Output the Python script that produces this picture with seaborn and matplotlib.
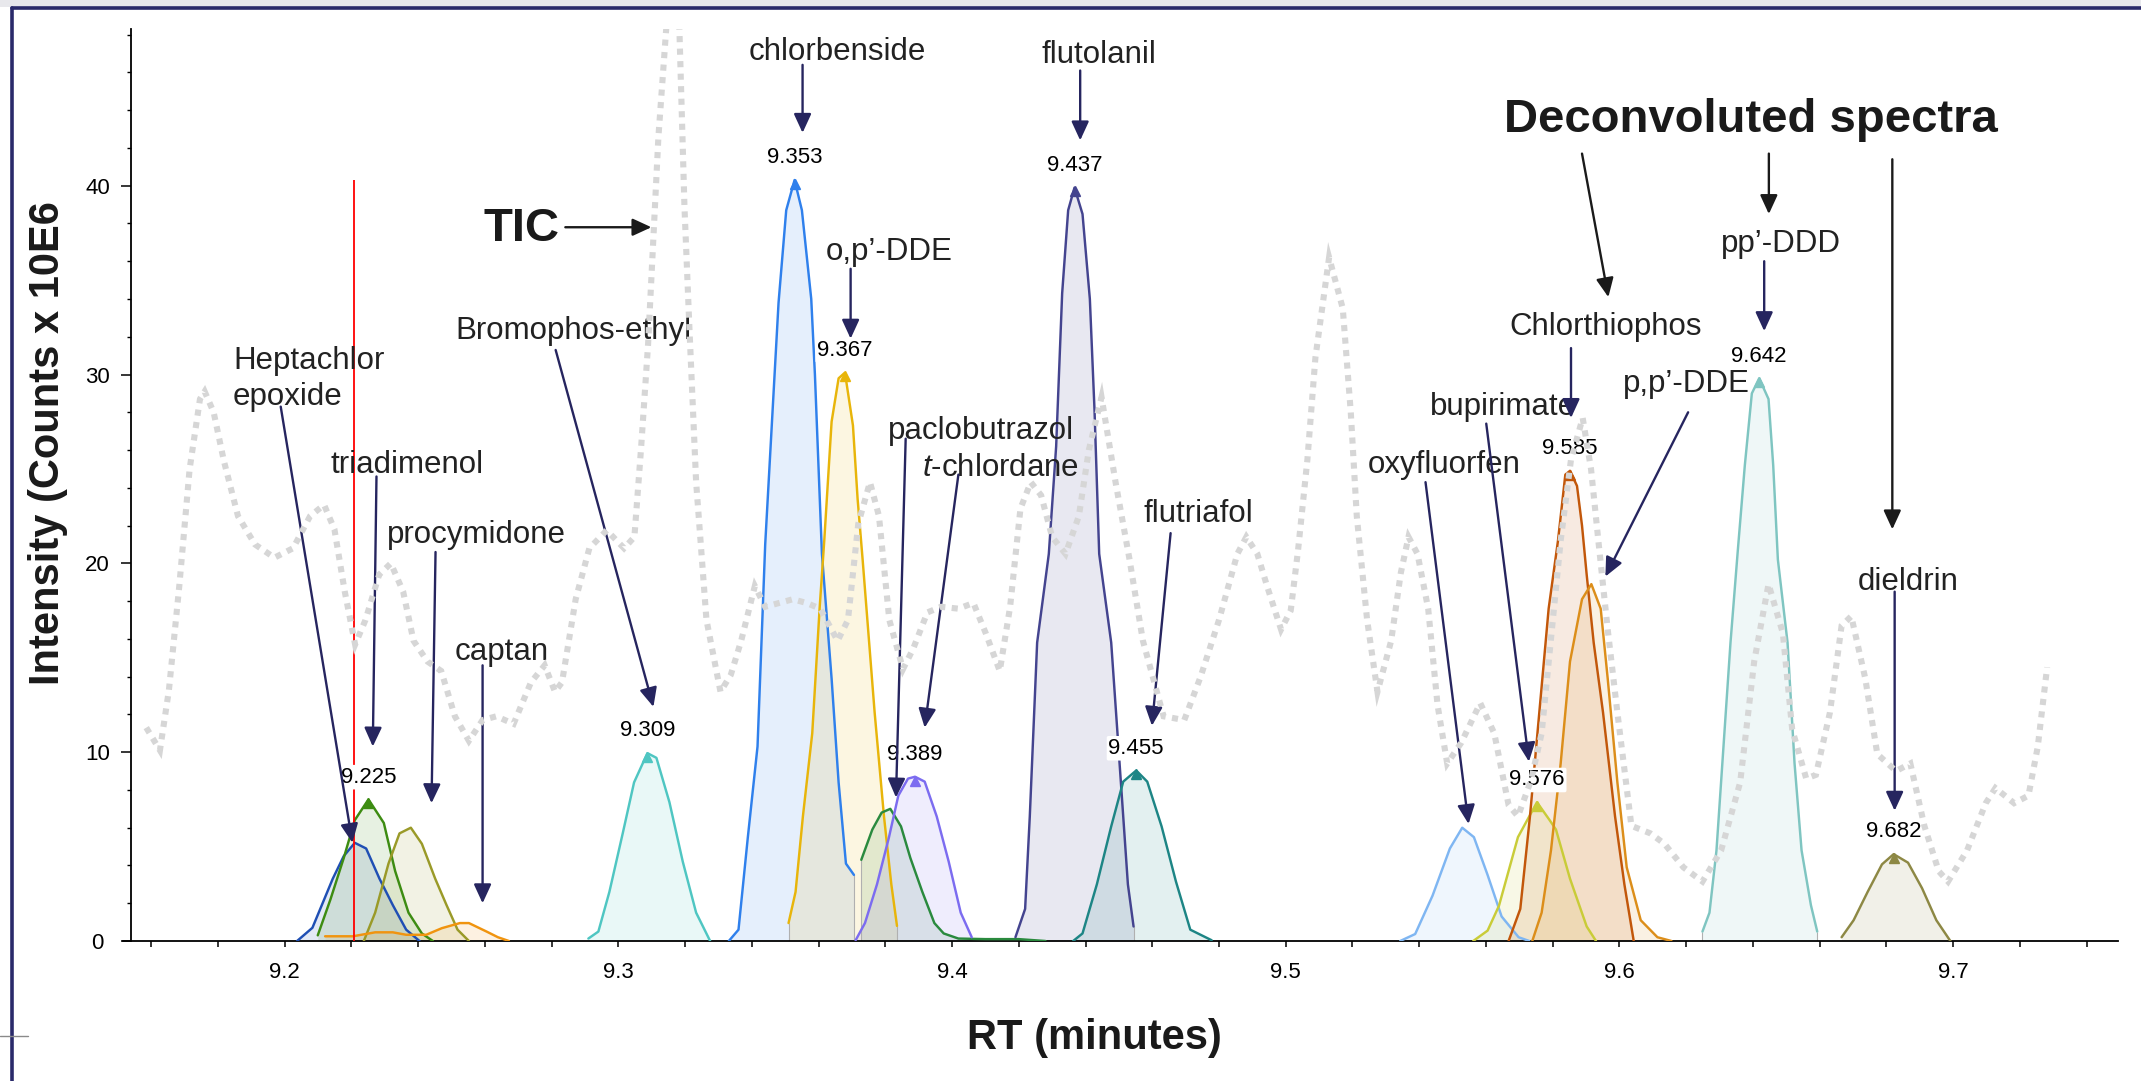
import numpy as np
import matplotlib
matplotlib.use("Agg")
import matplotlib.pyplot as plt
from matplotlib.lines import Line2D
from matplotlib.patches import Rectangle
from matplotlib.ticker import MultipleLocator
import seaborn as sns

sns.set_theme(style="white")
plt.rcParams['font.family'] = ['Liberation Sans', 'DejaVu Sans']
plt.rcParams['mathtext.fontset'] = 'custom'
plt.rcParams['mathtext.rm'] = 'Liberation Sans'
plt.rcParams['mathtext.it'] = 'Liberation Sans:italic'

# ---------------- data ----------------
tic_rt = [9.1585, 9.1626, 9.1653, 9.1684, 9.1715, 9.1746, 9.1760, 9.1787, 9.1818, 9.1860,
          9.1911, 9.1969, 9.2025, 9.2076, 9.2118, 9.2149, 9.2180, 9.2211, 9.2242, 9.2283,
          9.2318, 9.2355, 9.2386, 9.2428, 9.2469, 9.2510, 9.2552, 9.2593, 9.2634, 9.2686,
          9.2738, 9.2779, 9.2810, 9.2831, 9.2872, 9.2913, 9.2965, 9.3017, 9.3048, 9.3068,
          9.3089, 9.3120, 9.3147, 9.3167, 9.3182, 9.3198, 9.3213, 9.3233, 9.3264, 9.3306,
          9.3337, 9.3368, 9.3409, 9.3440, 9.3481, 9.3523, 9.3564, 9.3605, 9.3657, 9.3688,
          9.3719, 9.3754, 9.3781, 9.3812, 9.3853, 9.3884, 9.3926, 9.3967, 9.4019, 9.4064,
          9.4101, 9.4143, 9.4174, 9.4205, 9.4236, 9.4267, 9.4300, 9.4340, 9.4380, 9.4410,
          9.4448, 9.4490, 9.4531, 9.4572, 9.4634, 9.4696, 9.4745, 9.4800, 9.4855, 9.4882,
          9.4915, 9.4944, 9.4986, 9.5015, 9.5037, 9.5065, 9.5089, 9.5130, 9.5171, 9.5195,
          9.5213, 9.5244, 9.5275, 9.5316, 9.5345, 9.5368, 9.5395, 9.5427, 9.5455, 9.5484,
          9.5526, 9.5583, 9.5625, 9.5668, 9.5696, 9.5735, 9.5767, 9.5795, 9.5824, 9.5855,
          9.5890, 9.5915, 9.5937, 9.5965, 9.5994, 9.6036, 9.6093, 9.6135, 9.6192, 9.6249,
          9.6305, 9.6362, 9.6404, 9.6447, 9.6490, 9.6518, 9.6560, 9.6589, 9.6631, 9.6666,
          9.6695, 9.6737, 9.6773, 9.6829, 9.6872, 9.6914, 9.6957, 9.6985, 9.7042, 9.7098,
          9.7127, 9.7183, 9.7226, 9.7254, 9.7282]
tic_int = [11.3, 10.1, 13.3, 18.8, 25.0, 28.7, 29.1, 28.0, 25.4, 22.5,
           21.0, 20.3, 20.8, 22.5, 23.1, 21.8, 18.5, 15.7, 17.0, 19.4,
           20.0, 18.5, 15.9, 14.8, 14.3, 11.9, 10.6, 11.7, 11.9, 11.5,
           13.7, 14.6, 13.2, 13.7, 18.1, 20.8, 21.75, 20.8, 21.4, 26.1,
           31.6, 42.6, 49.2, 50.0, 48.8, 38.9, 32.4, 24.3, 17.0, 13.2,
           14.1, 15.9, 18.8, 17.7, 17.9, 18.1, 17.9, 17.6, 15.9, 17.0,
           22.1, 24.3, 22.5, 17.0, 14.4, 15.5, 17.4, 17.7, 17.6, 17.9,
           16.3, 14.3, 17.7, 22.9, 24.3, 23.6, 21.4, 20.5, 22.5, 26.0,
           28.8, 24.3, 20.3, 15.9, 11.9, 11.7, 14.0, 17.0, 20.5, 21.4,
           20.5, 18.8, 16.5, 17.5, 20.7, 25.5, 30.9, 36.2, 33.5, 28.0,
           22.5, 17.0, 13.2, 15.9, 19.5, 21.4, 20.5, 17.6, 12.5, 9.4,
           10.5, 12.6, 11.0, 7.2, 6.6, 8.5, 11.0, 16.0, 21.2, 25.5,
           27.7, 25.0, 21.2, 16.5, 12.1, 6.1, 5.7, 5.15, 3.9, 3.15,
           4.8, 8.4, 14.8, 18.9, 16.3, 11.2, 8.6, 8.8, 12.1, 16.7,
           17.2, 13.9, 9.9, 9.0, 9.4, 6.1, 3.7, 3.15, 4.8, 7.3,
           8.1, 7.3, 7.7, 10.3, 14.5]

hept_rt = [9.2037, 9.2083, 9.2144, 9.2177, 9.2210, 9.2244, 9.2284, 9.2324, 9.2364, 9.2404]
hept_int = [0.0, 0.7, 3.3, 4.5, 5.2, 4.9, 3.3, 1.9, 0.6, 0.0]

triad_rt = [9.2099, 9.2137, 9.2177, 9.2210, 9.2251, 9.2297, 9.2331, 9.2371, 9.2411, 9.2444]
triad_int = [0.3, 2.2, 4.4, 6.4, 7.5, 6.25, 3.7, 1.5, 0.4, 0.0]

procy_rt = [9.2237, 9.2271, 9.2311, 9.2344, 9.2378, 9.2411, 9.2451, 9.2485, 9.2518, 9.2552]
procy_int = [0.0, 1.5, 4.1, 5.7, 6.0, 5.15, 3.3, 1.9, 0.6, 0.0]

captan_rt = [9.2121, 9.2204, 9.2271, 9.2324, 9.2364, 9.2424, 9.2471, 9.2525, 9.2552, 9.2605, 9.2639, 9.2672]
captan_int = [0.25, 0.25, 0.46, 0.46, 0.33, 0.33, 0.68, 0.95, 0.95, 0.5, 0.2, 0.0]

bromo_rt = [9.2910, 9.2940, 9.2973, 9.3013, 9.3047, 9.3087, 9.3114, 9.3153, 9.3193, 9.3233, 9.3275]
bromo_int = [0.13, 0.5, 2.6, 5.7, 8.4, 9.95, 9.7, 7.35, 4.2, 1.5, 0.0]

chlorb_rt = [9.3331, 9.3360, 9.3388, 9.3417, 9.3440, 9.3480, 9.3503, 9.3528, 9.3550, 9.3578,
             9.3589, 9.3610, 9.3639, 9.3660, 9.3682, 9.3706]
chlorb_int = [0.0, 0.6, 5.5, 10.3, 21.0, 33.8, 38.7, 40.3, 38.7, 34.0,
              30.0, 20.5, 13.9, 8.4, 4.1, 3.5]

opdde_rt = [9.3510, 9.3531, 9.3553, 9.3581, 9.3603, 9.3617, 9.3639, 9.3660, 9.3679, 9.3703,
            9.3717, 9.3732, 9.3768, 9.3796, 9.3818, 9.3835]
opdde_int = [0.95, 2.6, 6.6, 11.0, 17.6, 21.2, 27.5, 29.8, 30.1, 27.3,
             23.4, 20.2, 12.1, 6.6, 3.0, 0.8]

paclo_rt = [9.3728, 9.3761, 9.3789, 9.3815, 9.3847, 9.3875, 9.3911, 9.3947, 9.3975, 9.4019,
            9.4100, 9.4200, 9.4280]
paclo_int = [4.3, 5.9, 6.8, 7.0, 6.07, 4.4, 2.6, 0.95, 0.4, 0.13, 0.1, 0.1, 0.0]

tchlor_rt = [9.3711, 9.3739, 9.3775, 9.3811, 9.3839, 9.3868, 9.3889, 9.3918, 9.3954, 9.3990, 9.4026, 9.4059]
tchlor_int = [0.04, 0.95, 3.0, 5.5, 7.7, 8.6, 8.7, 8.44, 6.6, 4.2, 1.5, 0.2]

fluto_rt = [9.4190, 9.4219, 9.4233, 9.4255, 9.4290, 9.4312, 9.4330, 9.4348, 9.4367, 9.4391,
            9.4413, 9.4427, 9.4441, 9.4477, 9.4506, 9.4527, 9.4544]
fluto_int = [0.2, 1.7, 6.6, 15.8, 20.5, 26.2, 34.3, 38.7, 39.9, 38.5,
             34.0, 28.1, 20.5, 15.8, 8.4, 3.0, 0.77]

flutri_rt = [9.4363, 9.4391, 9.4434, 9.4477, 9.4513, 9.4552, 9.4585, 9.4628, 9.4671, 9.4714, 9.4778]
flutri_int = [0.0, 0.4, 3.0, 6.07, 8.44, 9.03, 8.44, 6.07, 3.15, 0.6, 0.04]

oxy_rt = [9.5343, 9.5388, 9.5440, 9.5492, 9.5529, 9.5564, 9.5605, 9.5647, 9.5698, 9.5730]
oxy_int = [0.0, 0.37, 2.4, 4.9, 6.0, 5.5, 3.5, 1.3, 0.2, 0.0]

bupi_rt = [9.5562, 9.5605, 9.5639, 9.5696, 9.5753, 9.5791, 9.5810, 9.5852, 9.5902, 9.5930]
bupi_int = [0.0, 0.55, 1.86, 5.5, 7.35, 6.4, 5.9, 3.3, 0.77, 0.0]

chlorth_rt = [9.5668, 9.5703, 9.5732, 9.5760, 9.5788, 9.5816, 9.5838, 9.5852, 9.5873, 9.5888,
              9.5902, 9.5923, 9.5951, 9.5987, 9.6015, 9.6043]
chlorth_int = [0.0, 1.7, 6.6, 12.1, 17.6, 21.2, 24.7, 24.9, 24.1, 22.0,
               19.4, 15.8, 12.1, 6.6, 3.0, 0.0]

ppdde_rt = [9.5739, 9.5767, 9.5795, 9.5824, 9.5852, 9.5888, 9.5916, 9.5944, 9.5965, 9.5994,
            9.6022, 9.6064, 9.6114, 9.6156]
ppdde_int = [0.0, 1.5, 4.8, 9.4, 14.8, 18.1, 18.9, 17.6, 13.9, 8.4, 3.9, 1.1, 0.2, 0.0]

ppddd_rt = [9.6249, 9.6270, 9.6291, 9.6312, 9.6333, 9.6355, 9.6376, 9.6397, 9.6419, 9.6447,
            9.6461, 9.6475, 9.6504, 9.6525, 9.6546, 9.6574, 9.6593]
ppddd_int = [0.5, 1.5, 4.8, 10.3, 15.8, 20.7, 25.2, 29.0, 29.8, 28.7,
             25.2, 20.2, 15.8, 9.4, 4.8, 1.9, 0.5]

dield_rt = [9.6666, 9.6702, 9.6744, 9.6787, 9.6822, 9.6865, 9.6907, 9.6950, 9.6992]
dield_int = [0.2, 1.1, 2.6, 4.06, 4.6, 4.15, 2.8, 1.1, 0.0]

apex_labels = ["9.225", "9.309", "9.353", "9.367", "9.389", "9.437", "9.455",
               "9.576", "9.585", "9.642", "9.682"]

x_ticks = [9.2, 9.3, 9.4, 9.5, 9.6, 9.7]
x_tick_labels = ["9.2", "9.3", "9.4", "9.5", "9.6", "9.7"]
y_ticks = [0, 10, 20, 30, 40]

# (rt, intensity, colour, apex label)
peaks = [
    (hept_rt, hept_int, '#1f4fb4', None),
    (triad_rt, triad_int, '#3d8c12', apex_labels[0]),
    (procy_rt, procy_int, '#9a9a28', None),
    (captan_rt, captan_int, '#f0940f', None),
    (bromo_rt, bromo_int, '#4fc6c2', apex_labels[1]),
    (chlorb_rt, chlorb_int, '#2f80ec', apex_labels[2]),
    (opdde_rt, opdde_int, '#e8b50a', apex_labels[3]),
    (paclo_rt, paclo_int, '#2a8a3e', None),
    (tchlor_rt, tchlor_int, '#7c6cf0', apex_labels[4]),
    (fluto_rt, fluto_int, '#44448f', apex_labels[5]),
    (flutri_rt, flutri_int, '#1d8585', apex_labels[6]),
    (oxy_rt, oxy_int, '#7fb6f2', None),
    (bupi_rt, bupi_int, '#c9cc38', apex_labels[7]),
    (chlorth_rt, chlorth_int, '#c2570a', apex_labels[8]),
    (ppdde_rt, ppdde_int, '#dc8e1a', None),
    (ppddd_rt, ppddd_int, '#7fc5c1', apex_labels[9]),
    (dield_rt, dield_int, '#8d8844', apex_labels[10]),
]

# ---------------- figure ----------------
fig = plt.figure(figsize=(21.41, 10.81), dpi=100)
ax = fig.add_axes([0.0574, 0.1295, 0.9318, 0.8437])
ax.set_xlim(9.1515, 9.7494)
ax.set_ylim(0, 48.3)

for rt, inten, col, lab in peaks:
    ax.fill_between(rt, inten, 0, color=col, alpha=0.12, lw=0, zorder=2)
    sns.lineplot(x=rt, y=inten, sort=False, estimator=None, color=col, lw=1.75,
                 ax=ax, zorder=3, legend=False)
    for xe, ye in ((rt[0], inten[0]), (rt[-1], inten[-1])):
        if ye > 0.3:
            ax.vlines(xe, 0, ye, color='#b0b0b0', lw=0.8, zorder=2.5)
    if lab:
        i = int(np.argmax(inten))
        ax.plot(rt[i], inten[i] - 0.2, marker='^', color=col, ms=7.5, zorder=3.5)
        ax.annotate(lab, (rt[i], inten[i]), xytext=(0, 16), textcoords='offset points',
                    ha='center', va='center', fontsize=16, color='black', zorder=4.5,
                    bbox=dict(boxstyle='round,pad=0.08', fc='white', ec='none'))

# red marker line
ax.vlines(9.2207, 0, 40.3, color='#ff0000', lw=1.3, zorder=4)

# TIC
sns.lineplot(x=tic_rt, y=tic_int, sort=False, estimator=None, color='#d6d6d6', lw=4.4,
             ax=ax, zorder=6, legend=False)
tic_line = ax.lines[-1]
tic_line.set_linestyle((0, (1.0, 1.05)))
tic_line.set_dash_capstyle('butt')
tic_line.set_dash_joinstyle('miter')

navy = '#26255f'
txtc = '#222222'
names = [
    ("Heptachlor\nepoxide", 9.1845, 29.75, 'left', (9.1988, 28.3), (9.2203, 5.2)),
    ("triadimenol", 9.2366, 25.2, 'center', (9.2275, 24.6), (9.2264, 10.3)),
    ("procymidone", 9.2574, 21.5, 'center', (9.2452, 20.6), (9.2440, 7.3)),
    ("captan", 9.2651, 15.3, 'center', (9.2593, 14.6), (9.2593, 2.0)),
    ("Bromophos-ethyl", 9.2864, 32.3, 'center', (9.2812, 31.3), (9.3105, 12.4)),
    ("chlorbenside", 9.3655, 47.1, 'center', (9.3552, 46.4), (9.3552, 42.8)),
    ("o,p\u2019-DDE", 9.3812, 36.5, 'center', (9.3696, 35.6), (9.3696, 31.9)),
    ("paclobutrazol", 9.4087, 27.0, 'center', (9.3861, 26.6), (9.3832, 7.6)),
    (r"$\it{t}$-chlordane", 9.4144, 25.06, 'center', (9.4019, 24.7), (9.3918, 11.3)),
    ("flutolanil", 9.4439, 46.9, 'center', (9.4384, 46.1), (9.4384, 42.4)),
    ("flutriafol", 9.4738, 22.6, 'center', (9.4655, 21.6), (9.4599, 11.4)),
    ("oxyfluorfen", 9.5475, 25.2, 'center', (9.5419, 24.3), (9.5548, 6.2)),
    ("bupirimate", 9.5651, 28.3, 'center', (9.5601, 27.4), (9.5729, 9.5)),
    ("Chlorthiophos", 9.5959, 32.5, 'center', (9.5855, 31.4), (9.5855, 27.7)),
    ("p,p\u2019-DDE", 9.6202, 29.5, 'center', (9.6206, 28.0), (9.5958, 19.3)),
    ("pp\u2019-DDD", 9.6484, 36.9, 'center', (9.6434, 36.0), (9.6434, 32.3)),
    ("dieldrin", 9.6866, 19.0, 'center', (9.6825, 18.5), (9.6825, 6.9)),
]
aprops = dict(arrowstyle='-|>,head_length=0.5,head_width=0.23', lw=1.7,
              shrinkA=0, shrinkB=0, mutation_scale=23)
for txt, tx, ty, ha, a0, a1 in names:
    ax.text(tx, ty, txt, ha=ha, va='center', fontsize=22.5, color=txtc,
            linespacing=1.25, zorder=5)
    ax.annotate('', xy=a1, xytext=a0, arrowprops=dict(color=navy, **aprops), zorder=5.5)

# TIC / Deconvoluted spectra call-outs
ax.text(9.2711, 37.7, "TIC", ha='center', va='center', fontsize=34,
        fontweight='bold', color='#1a1a1a', zorder=5)
ax.annotate('', xy=(9.3099, 37.8), xytext=(9.2841, 37.8),
            arrowprops=dict(color='#1a1a1a', **aprops), zorder=5.5)
ax.text(9.6393, 43.5, "Deconvoluted spectra", ha='center', va='center', fontsize=34,
        fontweight='bold', color='#1a1a1a', zorder=5)
for a0, a1 in [((9.5888, 41.7), (9.5967, 34.1)),
               ((9.6448, 41.7), (9.6448, 38.5)),
               ((9.6818, 41.4), (9.6818, 21.8))]:
    ax.annotate('', xy=a1, xytext=a0, arrowprops=dict(color='#1a1a1a', **aprops), zorder=5.5)

# axes styling
for s in ['top', 'right']:
    ax.spines[s].set_visible(False)
ax.spines['left'].set_position(('data', 9.1539))
for s in ['left', 'bottom']:
    ax.spines[s].set_color('black')
    ax.spines[s].set_linewidth(1.3)
ax.set_xticks(x_ticks)
ax.set_xticklabels(x_tick_labels)
ax.xaxis.set_minor_locator(MultipleLocator(0.02))
ax.set_yticks(y_ticks)
ax.yaxis.set_minor_locator(MultipleLocator(2))
ax.tick_params(axis='x', which='both', direction='out', length=4.5, width=1.1,
               colors='black', labelsize=16, pad=10.5, bottom=True)
ax.tick_params(axis='y', which='major', direction='out', length=7.5, width=1.1,
               colors='black', labelsize=16, pad=16.5, left=True)
ax.tick_params(axis='y', which='minor', direction='out', length=3.0, width=1.0,
               colors='black', left=True)
for lbl in ax.get_yticklabels():
    lbl.set_horizontalalignment('center')
ax.grid(False)
ax.set_xlabel('')
ax.set_ylabel('')

fig.text(0.5114, 0.040, "RT (minutes)", ha='center', va='center', fontsize=30,
         fontweight='bold', color='#1a1a1a')
fig.text(0.0225, 0.590, "Intensity (Counts x 10E6", ha='center', va='center',
         rotation=90, fontsize=30, fontweight='bold', color='#1a1a1a')

# slide frame
fig.add_artist(Rectangle((0, 0.9935), 1, 0.0065, transform=fig.transFigure,
                         color='#e8e8ec', lw=0, zorder=0))
fig.add_artist(Line2D([0.0058, 0.0058], [0, 0.9923], transform=fig.transFigure,
                      color='#2a2a6a', lw=2.6))
fig.add_artist(Line2D([0.0058, 1.0], [0.9923, 0.9923], transform=fig.transFigure,
                      color='#2a2a6a', lw=2.6))
fig.add_artist(Line2D([0, 0.013], [0.0416, 0.0416], transform=fig.transFigure,
                      color='#8a8a8a', lw=1.0))

fig.savefig('out.png', dpi=100)
